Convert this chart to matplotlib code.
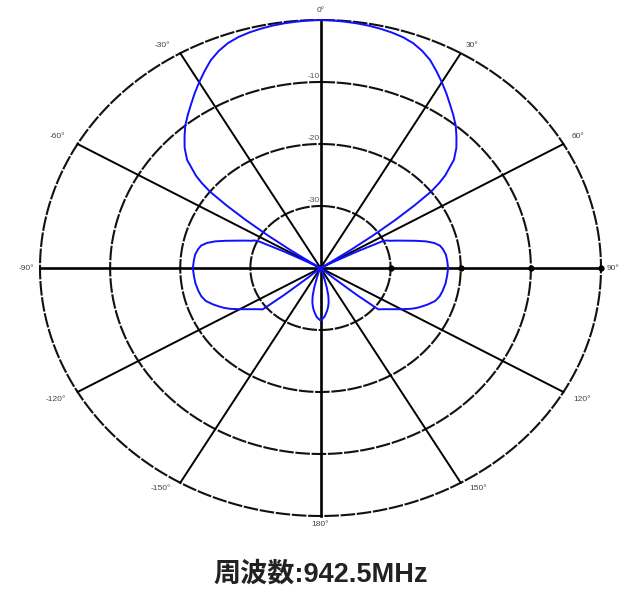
"""
Диаграмма направленности антенны (эллиптическая полярная сетка).
"""

import numpy as np
import matplotlib
matplotlib.use('Agg')
import matplotlib.pyplot as plt

# Угол (градусы) и уровень (дБ): левая половина
angles_left = [
    -180, -178, -176, -174, -172, -170, -168, -166, -164, -162, -160, -158,
    -132, -131, -130, -129, -126, -123, -120, -117, -115, -113, -111, -108,
    -105, -102, -98, -94, -90, -86, -83, -80, -78, -76, -74, -72, -70, -68,
    -66, -65, -64, -63, -62, -61.5, -60, -58, -57, -56, -55, -54, -53, -52,
    -51, -50, -47.5, -45, -42.5, -40, -37.5, -35, -32.5, -30, -27.5, -25,
    -22.5, -20, -17.5, -15, -12.5, -10, -7.5, -5, -2.5,
]
gain_left = [
    -31.6, -31.8, -32.1, -32.6, -33.1, -33.7, -34.4, -35.4, -36.8, -38.4, -39.2, -40.0,
    -40.0, -37.6, -33.2, -29.4, -28.7, -27.8, -26.7, -25.5, -24.8, -24.2, -23.6, -22.8,
    -22.4, -22.2, -22.0, -21.9, -21.8, -21.9, -22.0, -22.3, -22.6, -23.3, -24.4, -25.8,
    -27.1, -28.2, -29.2, -29.5, -30.0, -34.0, -38.0, -39.2, -40.0, -40.0, -38.4, -34.8,
    -30.8, -26.8, -23.2, -20.0, -18.2, -16.8, -14.2, -12.6, -11.3, -10.0, -8.9, -7.8,
    -6.6, -5.4, -4.2, -3.0, -2.1, -1.4, -0.96, -0.68, -0.48, -0.32, -0.2, -0.12, -0.04,
]
# правая половина
angles_right = [
    0, 2.5, 5, 7.5, 10, 12.5, 15, 17.5, 20, 22.5, 25, 27.5, 30, 32.5, 35, 37.5,
    40, 42.5, 45, 47.5, 50, 51, 52, 53, 54, 55, 56, 57, 58, 60, 61.5, 62, 63,
    64, 65, 66, 68, 70, 72, 74, 76, 78, 80, 83, 86, 90, 94, 98, 102, 105, 108,
    111, 113, 115, 117, 120, 123, 126, 129, 130, 131, 132, 158, 160, 162, 164,
    166, 168, 170, 172, 174, 176, 178, 180,
]
gain_right = [
    0.0, -0.04, -0.12, -0.2, -0.32, -0.48, -0.68, -0.96, -1.4, -2.1, -3.0, -4.2,
    -5.4, -6.6, -7.8, -8.9, -10.0, -11.3, -12.6, -14.2, -16.8, -18.2, -20.0, -23.2,
    -26.8, -30.8, -34.8, -38.4, -40.0, -40.0, -39.2, -38.0, -34.0, -30.0, -29.5,
    -29.2, -28.2, -27.1, -25.8, -24.4, -23.3, -22.6, -22.3, -22.0, -21.9, -21.8,
    -21.9, -22.0, -22.2, -22.4, -22.8, -23.6, -24.2, -24.8, -25.5, -26.7, -27.8,
    -28.7, -29.4, -33.2, -37.6, -40.0, -40.0, -39.2, -38.4, -36.8, -35.4, -34.4,
    -33.7, -33.1, -32.6, -32.1, -31.8, -31.6,
]

ring_levels = [-30, -20, -10, 0]
ring_labels = ['-30', '-20', '-10']
spoke_angles = [0, 30, 60, 90, 120, 150]
angle_ticks = [0, 30, 60, 90, 120, 150, 180, -150, -120, -90, -60, -30]
# смещения подписей углов в пикселях (dx, dy) и выравнивание
tick_offsets = {
    0: (0, 10, 'center'), 30: (5, 8, 'left'), 60: (8, 7, 'left'),
    90: (6, 0, 'left'), 120: (10, -8, 'left'), 150: (9, -6, 'left'),
    180: (0, -8, 'center'), -150: (-9, -6, 'right'), -120: (-12, -8, 'right'),
    -90: (-6, 0, 'right'), -60: (-12, 7, 'right'), -30: (-10, 8, 'right'),
}
title = '周波数:942.5MHz'

DB_MIN = -40.0


def to_radius(db):
    """Переводит уровень в дБ в относительный радиус 0..1."""
    return (np.clip(np.asarray(db, dtype=float), DB_MIN, 0) - DB_MIN) / -DB_MIN


def to_xy(theta_deg, r):
    """Угол отсчитывается от вертикали по часовой стрелке."""
    t = np.radians(theta_deg)
    return r * np.sin(t), r * np.cos(t)


fig = plt.figure(figsize=(6.21, 5.90), dpi=100)
ax = fig.add_axes([40 / 621, 74 / 590, 561 / 621, 496 / 590])
ax.set_xlim(-1, 1)
ax.set_ylim(-1, 1)
ax.axis('off')

# кольца
t_full = np.linspace(0, 360, 721)
for level in ring_levels:
    x, y = to_xy(t_full, to_radius(level))
    ax.plot(x, y, color='#111111', lw=1.5, linestyle=(0, (7, 0.8)),
            clip_on=False, zorder=1)

# лучи
for a in spoke_angles:
    x1, y1 = to_xy(a, 1.0)
    lw = 1.9 if a in (0, 90) else 1.4
    ax.plot([-x1, x1], [-y1, y1], color='black', lw=lw, clip_on=False, zorder=2)

# точки на правой полуоси
dots = to_radius(ring_levels)
ax.plot(dots, np.zeros_like(dots), 'o', color='black', ms=3.5,
        clip_on=False, zorder=3)

# подписи углов
for a in angle_ticks:
    x, y = to_xy(a, 1.0)
    dx, dy, ha = tick_offsets[a]
    ax.annotate(f'{a}°', xy=(x, y), xytext=(dx, dy), textcoords='offset pixels',
                ha=ha, va='center', fontsize=6, color='#444444',
                family='Liberation Sans')

# подписи уровней
for level, label in zip(ring_levels[:3], ring_labels):
    ax.annotate(label, xy=(0, to_radius(level)), xytext=(-1, 6),
                textcoords='offset pixels', ha='right', va='center',
                fontsize=6, color='#555555', family='Liberation Sans')

# диаграмма
angles = np.array(angles_left + angles_right)
r = to_radius(gain_left + gain_right)
x, y = to_xy(angles, r)
ax.plot(x, y, color='#1010ff', lw=1.4, zorder=4, clip_on=False)

fig.text(0.516, 1 - 575 / 590, title, ha='center', va='center',
         fontsize=19.5, fontweight='bold', color='#222222',
         family=['Liberation Sans', 'Noto Sans CJK JP'])

fig.savefig('out.png', dpi=100)
